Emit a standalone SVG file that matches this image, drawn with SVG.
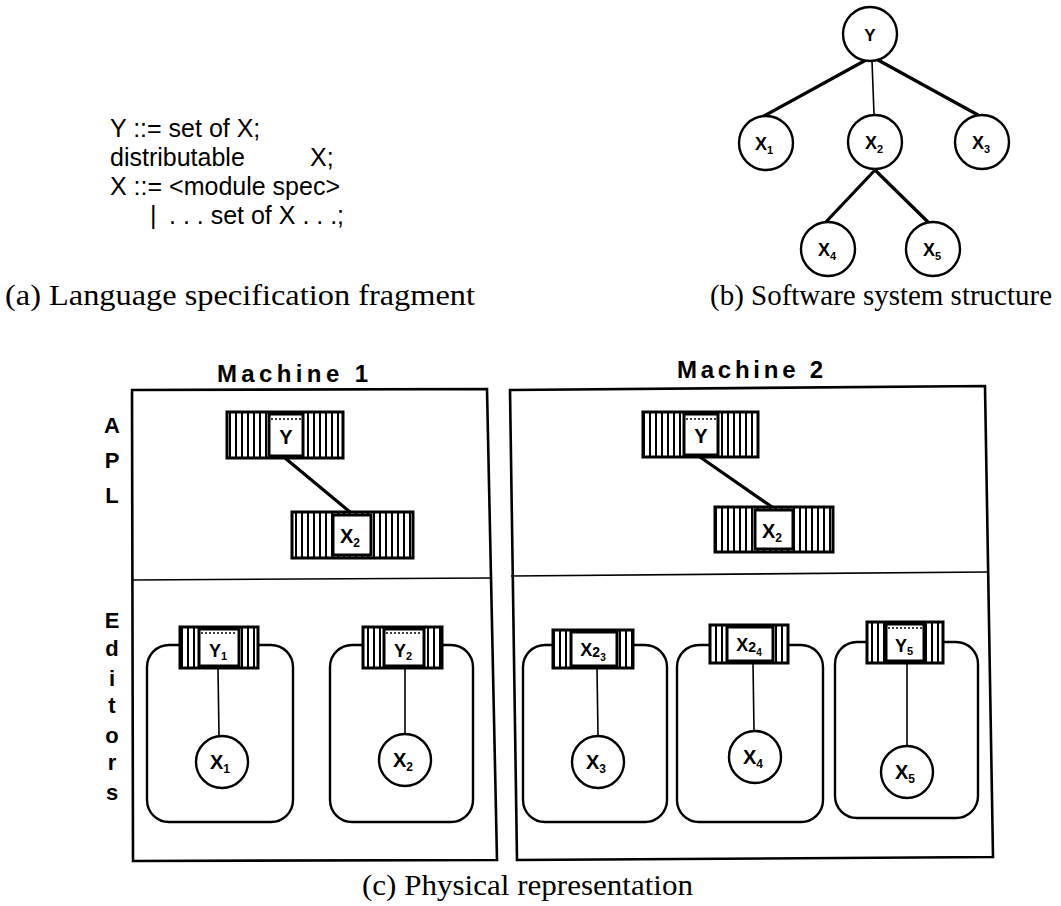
<svg xmlns="http://www.w3.org/2000/svg" width="1061" height="906" viewBox="0 0 1061 906">
<defs>
<pattern id="stripes" patternUnits="userSpaceOnUse" width="6" height="10"><rect width="6" height="10" fill="#fff"/><rect x="1" width="2" height="10" fill="#000"/></pattern>
<style>
.code{font-family:"Liberation Sans",Arial,sans-serif;font-size:25px;fill:#000}
.cap{font-family:"Liberation Serif","Times New Roman",serif;font-size:29px;fill:#000}
.lbl{font-family:"Liberation Sans",Arial,sans-serif;font-weight:bold;fill:#000;text-anchor:middle}
.side{font-family:"Liberation Sans",Arial,sans-serif;font-weight:bold;font-size:22px;fill:#000;text-anchor:middle}
.mach{font-family:"Liberation Sans",Arial,sans-serif;font-weight:bold;font-size:24px;fill:#000}
.thick{stroke:#000;stroke-width:3.2;fill:none;stroke-linecap:round}
.thin{stroke:#000;stroke-width:1.6;fill:none}
.circ{fill:#fff;stroke:#000;stroke-width:2.4}
.box{fill:#fff;stroke:#000;stroke-width:2.6}
.ebox{fill:none;stroke:#000;stroke-width:2.4}
.mod{fill:url(#stripes);stroke:#000;stroke-width:3}
.mlab{fill:#fff;stroke:#000;stroke-width:3}
.dots{stroke:#000;stroke-width:1.5;stroke-dasharray:2 2}
</style>
</defs>
<rect width="1061" height="906" fill="#fff"/>

<g id="spec">
<text class="code" x="110" y="137">Y ::= set of X;</text>
<text class="code" x="110" y="166">distributable</text>
<text class="code" x="310" y="166">X;</text>
<text class="code" x="110" y="195">X ::= &lt;module spec&gt;</text>
<text class="code" x="150" y="224">|</text>
<text class="code" x="169" y="224">. . . set of X . . .;</text>
<text class="cap" x="5" y="305" textLength="470" lengthAdjust="spacingAndGlyphs">(a) Language specification fragment</text>
</g>

<g id="tree-edges">
<line class="thick" x1="866" y1="60" x2="762" y2="117"/>
<line class="thin" x1="872" y1="61" x2="874" y2="114"/>
<line class="thick" x1="878" y1="60" x2="978" y2="115"/>
<line class="thick" x1="875" y1="170" x2="824" y2="224"/>
<line class="thick" x1="875" y1="170" x2="930" y2="224"/>
</g>
<g id="tree-Y"><circle class="circ" cx="870" cy="34" r="27"/><text class="lbl" x="870" y="41" font-size="17">Y</text></g>
<g id="tree-X1"><circle class="circ" cx="766" cy="143" r="27"/><text class="lbl" x="764" y="150" font-size="18">X<tspan font-size="11" dy="4">1</tspan></text></g>
<g id="tree-X2"><circle class="circ" cx="875" cy="142" r="27"/><text class="lbl" x="874" y="149" font-size="18">X<tspan font-size="11" dy="4">2</tspan></text></g>
<g id="tree-X3"><circle class="circ" cx="982" cy="142" r="27"/><text class="lbl" x="981" y="149" font-size="18">X<tspan font-size="11" dy="4">3</tspan></text></g>
<g id="tree-X4"><circle class="circ" cx="828" cy="249" r="27"/><text class="lbl" x="827" y="256" font-size="18">X<tspan font-size="11" dy="4">4</tspan></text></g>
<g id="tree-X5"><circle class="circ" cx="933" cy="249" r="27"/><text class="lbl" x="932" y="256" font-size="18">X<tspan font-size="11" dy="4">5</tspan></text></g>
<text class="cap" x="710" y="305" textLength="342" lengthAdjust="spacingAndGlyphs">(b) Software system structure</text>

<g id="machine1">
<text class="mach" x="217" y="382" textLength="151" lengthAdjust="spacing">Machine 1</text>
<path class="box" d="M132,390 L487,389 L497,860 L133,861 Z"/>
<line class="thin" x1="133" y1="580" x2="491" y2="578" stroke-width="2.6"/>
<text class="side" x="112" y="433">A</text>
<text class="side" x="112" y="468">P</text>
<text class="side" x="112" y="503">L</text>
<text class="side" x="112" y="628">E</text>
<text class="side" x="112" y="656">d</text>
<text class="side" x="112" y="686">i</text>
<text class="side" x="112" y="713">t</text>
<text class="side" x="112" y="743">o</text>
<text class="side" x="112" y="770">r</text>
<text class="side" x="112" y="800">s</text>
</g>

<g id="machine2">
<text class="mach" x="677" y="378" textLength="146" lengthAdjust="spacing">Machine 2</text>
<path class="box" d="M510,390 L985,386 L993,857 L517,860 Z"/>
<line class="thin" x1="511" y1="576" x2="987" y2="572" stroke-width="2.6"/>
</g>

<g id="connectors">
<line class="thick" x1="285" y1="458" x2="350" y2="512"/>
<line class="thick" x1="700" y1="457" x2="772" y2="507"/>
<line class="thin" x1="218" y1="668" x2="219" y2="736"/>
<line class="thin" x1="405" y1="668" x2="405" y2="734"/>
<line class="thin" x1="597" y1="668" x2="598" y2="736"/>
<line class="thin" x1="753" y1="663" x2="754" y2="731"/>
<line class="thin" x1="907" y1="663" x2="907" y2="747"/>
</g>

<g id="m1-apl-Y">
<rect class="mod" x="227" y="412" width="116" height="46"/>
<rect class="mlab" x="269" y="414" width="34" height="42"/>
<line class="dots" x1="271" y1="419" x2="301" y2="419"/>
<text class="lbl" x="286" y="444" font-size="20">Y</text>
</g>
<g id="m1-apl-X2">
<rect class="mod" x="292" y="512" width="121" height="46"/>
<rect class="mlab" x="333" y="515" width="38" height="40"/>
<text class="lbl" x="350" y="543" font-size="20">X<tspan font-size="12" dy="4">2</tspan></text>
</g>
<g id="m2-apl-Y">
<rect class="mod" x="643" y="412" width="115" height="45"/>
<rect class="mlab" x="684" y="414" width="34" height="41"/>
<line class="dots" x1="686" y1="419" x2="716" y2="419"/>
<text class="lbl" x="701" y="443" font-size="20">Y</text>
</g>
<g id="m2-apl-X2">
<rect class="mod" x="715" y="507" width="118" height="45"/>
<rect class="mlab" x="755" y="510" width="38" height="39"/>
<text class="lbl" x="772" y="538" font-size="20">X<tspan font-size="12" dy="4">2</tspan></text>
</g>

<g id="editor1">
<rect class="ebox" x="147" y="645" width="146" height="177" rx="22"/>
<rect class="mod" x="180" y="627" width="78" height="41"/>
<rect class="mlab" x="199" y="629" width="40" height="37"/>
<line class="dots" x1="201" y1="633" x2="237" y2="633"/>
<text class="lbl" x="218" y="657" font-size="18">Y<tspan font-size="11" dy="3">1</tspan></text>
<circle class="circ" cx="222" cy="762" r="26"/>
<text class="lbl" x="220" y="769" font-size="20">X<tspan font-size="12" dy="4">1</tspan></text>
</g>
<g id="editor2">
<rect class="ebox" x="330" y="645" width="143" height="177" rx="22"/>
<rect class="mod" x="363" y="627" width="79" height="41"/>
<rect class="mlab" x="384" y="629" width="40" height="37"/>
<line class="dots" x1="386" y1="633" x2="422" y2="633"/>
<text class="lbl" x="403" y="657" font-size="18">Y<tspan font-size="11" dy="3">2</tspan></text>
<circle class="circ" cx="405" cy="760" r="26"/>
<text class="lbl" x="403" y="767" font-size="20">X<tspan font-size="12" dy="4">2</tspan></text>
</g>
<g id="editor3">
<rect class="ebox" x="523" y="645" width="144" height="177" rx="22"/>
<rect class="mod" x="553" y="630" width="80" height="38"/>
<rect class="mlab" x="571" y="632" width="46" height="34"/>
<text class="lbl" x="593" y="656" font-size="18">X<tspan font-size="14" dy="1">2</tspan><tspan font-size="10" dy="4">3</tspan></text>
<circle class="circ" cx="598" cy="762" r="26"/>
<text class="lbl" x="596" y="769" font-size="20">X<tspan font-size="12" dy="4">3</tspan></text>
</g>
<g id="editor4">
<rect class="ebox" x="677" y="645" width="146" height="177" rx="22"/>
<rect class="mod" x="710" y="625" width="78" height="38"/>
<rect class="mlab" x="727" y="627" width="46" height="34"/>
<text class="lbl" x="749" y="651" font-size="18">X<tspan font-size="14" dy="1">2</tspan><tspan font-size="10" dy="4">4</tspan></text>
<circle class="circ" cx="755" cy="757" r="26"/>
<text class="lbl" x="753" y="764" font-size="20">X<tspan font-size="12" dy="4">4</tspan></text>
</g>
<g id="editor5">
<rect class="ebox" x="835" y="642" width="143" height="176" rx="22"/>
<rect class="mod" x="867" y="622" width="76" height="41"/>
<rect class="mlab" x="886" y="624" width="38" height="37"/>
<line class="dots" x1="888" y1="628" x2="922" y2="628"/>
<text class="lbl" x="904" y="652" font-size="18">Y<tspan font-size="11" dy="3">5</tspan></text>
<circle class="circ" cx="907" cy="772" r="26"/>
<text class="lbl" x="905" y="779" font-size="20">X<tspan font-size="12" dy="4">5</tspan></text>
</g>

<text class="cap" x="362" y="895" textLength="331" lengthAdjust="spacingAndGlyphs">(c) Physical representation</text>
</svg>
